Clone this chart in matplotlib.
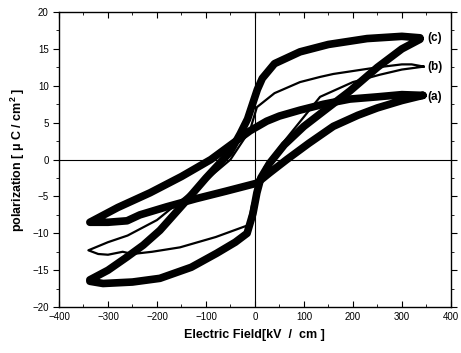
import matplotlib.pyplot as plt
import numpy as np

plt.rcParams['font.family'] = ['Liberation Sans', 'DejaVu Sans']
plt.rcParams['mathtext.default'] = 'regular'

# loop (a) - thick
a_up_E = [343, 300, 250, 194, 140, 92, 50, 24, -10, -45, -90, -150, -214, -280, -337]
a_up_P = [8.7, 8.8, 8.5, 8.2, 7.5, 6.7, 5.9, 5.2, 3.9, 2.2, 0.0, -2.3, -4.5, -6.5, -8.5]
a_lo_E = [-337, -300, -261, -235, -180, -120, -60, 4, 30, 65, 110, 160, 210, 250, 300, 343]
a_lo_P = [-8.5, -8.5, -8.3, -7.5, -6.4, -5.3, -4.3, -3.2, -1.8, 0.0, 2.2, 4.5, 6.0, 7.0, 8.0, 8.7]

# loop (b) - thin
b_up_E = [345, 320, 300, 250, 200, 160, 133, 92, 40, 4, -10, -50, -100, -150, -200, -260, -300, -340]
b_up_P = [12.6, 12.9, 12.9, 12.5, 12.0, 11.6, 11.2, 10.5, 9.0, 7.1, 4.0, 0.0, -2.8, -5.5, -8.2, -10.3, -11.2, -12.3]
b_lo_E = [-340, -320, -300, -270, -250, -210, -153, -80, -14, -6, 5, 20, 60, 133, 200, 255, 300, 345]
b_lo_P = [-12.3, -12.8, -12.9, -12.5, -12.8, -12.5, -11.9, -10.5, -8.9, -6.2, -4.0, -1.0, 2.5, 8.5, 10.5, 11.5, 12.2, 12.6]

# loop (c) - thick
c_up_E = [337, 300, 229, 150, 92, 40, 15, 5, -5, -15, -30, -51, -100, -139, -194, -228, -261, -300, -337]
c_up_P = [16.5, 16.7, 16.4, 15.6, 14.6, 13.0, 11.0, 9.5, 7.5, 5.5, 3.5, 1.0, -2.5, -5.5, -9.6, -11.6, -13.2, -15.0, -16.3]
c_lo_E = [-337, -310, -250, -194, -130, -78, -40, -16, -4, 4, 12, 30, 60, 100, 139, 194, 250, 300, 337]
c_lo_P = [-16.5, -16.8, -16.6, -16.1, -14.6, -12.7, -11.2, -10.0, -7.3, -4.5, -2.5, -0.5, 2.0, 4.5, 6.5, 9.3, 12.5, 15.0, 16.3]

labels = ['(a)', '(b)', '(c)']
label_P = [8.5, 12.5, 16.5]


def main():
    fig = plt.figure(figsize=(4.61, 3.53), dpi=100)
    ax = fig.add_axes([0.128, 0.130, 0.850, 0.836])

    ax.axhline(0, color='black', lw=0.8, zorder=1)
    ax.axvline(0, color='black', lw=0.8, zorder=1)

    for up_E, up_P, lo_E, lo_P, lw in [(a_up_E, a_up_P, a_lo_E, a_lo_P, 5.5),
                                       (b_up_E, b_up_P, b_lo_E, b_lo_P, 1.6),
                                       (c_up_E, c_up_P, c_lo_E, c_lo_P, 5.5)]:
        E = up_E + lo_E
        P = up_P + lo_P
        ax.plot(E, P, color='black', lw=lw, solid_joinstyle='round',
                solid_capstyle='round', zorder=2)

    for lab, p in zip(labels, label_P):
        ax.text(353, p, lab, fontsize=8.5, fontweight='bold', va='center', ha='left')

    ax.set_xlim(-400, 400)
    ax.set_ylim(-20, 20)
    ax.set_xticks(np.arange(-400, 401, 100))
    ax.set_xticks(np.arange(-400, 401, 50), minor=True)
    ax.set_yticks(np.arange(-20, 21, 5))
    ax.set_yticks(np.arange(-20, 21, 2.5), minor=True)
    ax.tick_params(axis='x', direction='in', length=4, width=0.8, labelsize=7, colors='black')
    ax.tick_params(axis='x', which='minor', direction='in', length=2)
    ax.tick_params(axis='y', direction='out', length=4, width=0.8, labelsize=7)
    ax.tick_params(axis='y', which='minor', direction='out', length=2)
    ax.tick_params(right=True, top=True, which='both')

    for s in ax.spines.values():
        s.set_linewidth(1.0)

    ax.set_xlabel('Electric Field[kV  /  cm ]', fontsize=9, fontweight='bold', labelpad=5)
    ax.set_ylabel('polarization [ μ C / cm$^2$ ]', fontsize=9, fontweight='bold', labelpad=4)

    fig.savefig('out.png', dpi=100)


if __name__ == '__main__':
    main()
